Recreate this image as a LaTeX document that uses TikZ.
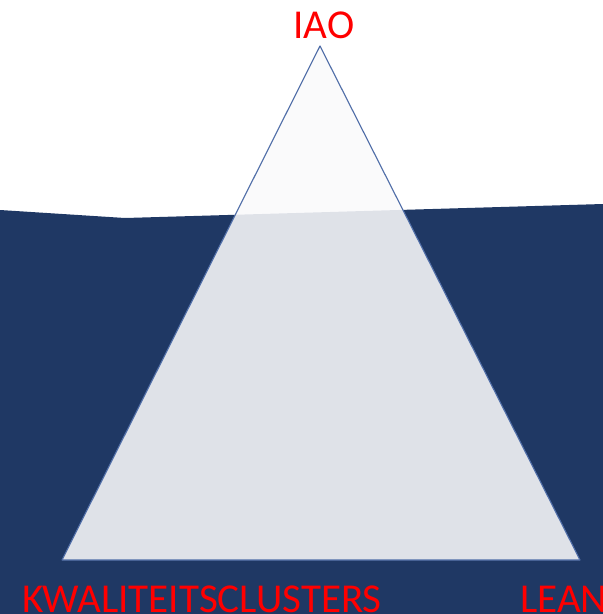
\documentclass[tikz,border=0pt]{standalone}
\usepackage{fontspec}
\setmainfont{Carlito}
\usepackage{tikz}
\usetikzlibrary{positioning}
\usepackage{xcolor}
\definecolor{seanavy}{RGB}{31,56,100}
\definecolor{icegray}{RGB}{250,250,251}
\definecolor{iceedge}{RGB}{80,110,168}
\definecolor{labelred}{RGB}{255,0,0}
\tikzstyle{water} = [fill=seanavy, draw=none]
\tikzstyle{iceberg} = [fill=icegray, fill opacity=0.88, draw=iceedge, line width=0.8pt, line join=round]
\tikzstyle{label} = [text=labelred, inner sep=0pt, font=\fontsize{29.2}{34}\selectfont]

\begin{document}
\begin{tikzpicture}[x=0.025cm, y=-0.025cm]
\useasboundingbox (0,0) rectangle (603,614);
\fill[white] (0,0) rectangle (603,614);
% Water
\path[water] (0,210) -- (125,218) -- (603,204) -- (603,614) -- (0,614) -- cycle;
% Iceberg
\coordinate (top) at (320,46);
\coordinate (baseleft) at (62,560);
\coordinate (baseright) at (580,560);
\path[iceberg] (top) -- (baseright) -- (baseleft) -- cycle;
% Labels
\node (iao) [label, anchor=base] at (324,38) {IAO};
\node (kwaliteit) [label, anchor=base] at (202,612) {KWALITEITSCLUSTERS};
\node (lean) [label, anchor=base west] at (520,612) {LEAN};
\end{tikzpicture}
\end{document}
